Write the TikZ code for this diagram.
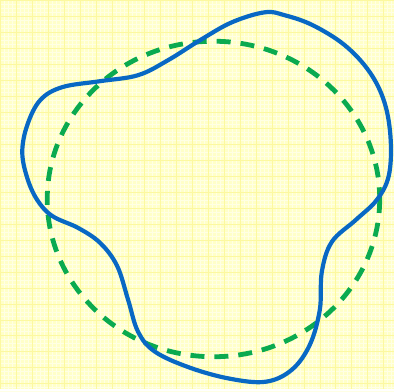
\documentclass[tikz,border=0pt]{standalone}
\usepackage{tikz}
\usetikzlibrary{calc}

\definecolor{paper}{RGB}{255,255,200}
\definecolor{gridminor}{RGB}{255,255,228}
\definecolor{gridmajor}{RGB}{252,248,160}
\definecolor{wobbly}{RGB}{8,104,196}
\definecolor{roundgreen}{RGB}{10,170,80}

\tikzset{
  wobble/.style={draw=wobbly, line width=4.2pt, line join=round},
  refcircle/.style={draw=roundgreen, line width=4.8pt, dash pattern=on 14pt off 10pt},
}

\begin{document}
\begin{tikzpicture}[x=1pt, y=-1pt]
    % background
    \fill[paper] (0,0) rectangle (394,389);
    \foreach \k in {0,4,...,392} {
      \draw[gridminor, line width=0.6pt] (\k,0) -- (\k,389);
      \draw[gridminor, line width=0.6pt] (0,\k) -- (394,\k);
    }
    \foreach \k in {0,16,...,392} {
      \draw[gridmajor, line width=0.6pt] (\k,0) -- (\k,389);
      \draw[gridmajor, line width=0.6pt] (0,\k) -- (394,\k);
    }
    \useasboundingbox (0,0) rectangle (394,389);

    \coordinate (c) at (213.5,199);

    % dashed circle
    \draw[refcircle] (c) ellipse [x radius=166.5, y radius=158];

    % blue closed curve
    \draw[wobble] plot[smooth cycle, tension=0.6] coordinates {
      (265,12) (232,22) (200,40) (168,60) (138,75) (100,81) (62,87) (40,100)
      (27,125) (22,152) (27,178) (37,200) (52,216) (78,228) (100,243)
      (117,266) (128,300) (138,332) (155,352) (190,368) (230,379) (266,382)
      (292,370) (310,345) (320,310) (322,272) (332,242) (356,220) (377,200)
      (389,176) (391,140) (385,103) (370,72) (345,45) (313,25) (285,15)
    };
\end{tikzpicture}
\end{document}
